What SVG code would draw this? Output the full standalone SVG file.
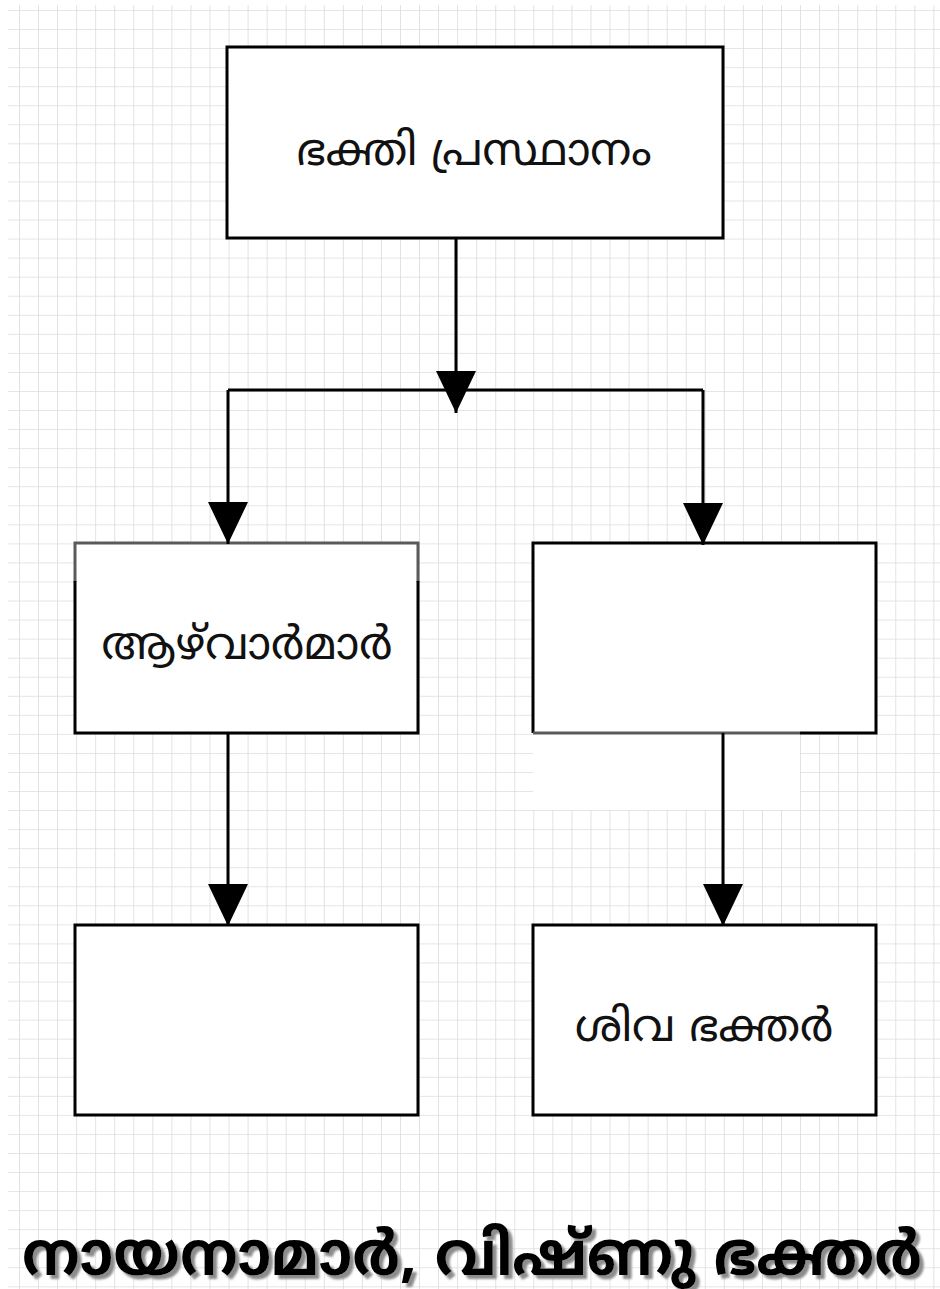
<svg xmlns="http://www.w3.org/2000/svg" width="940" height="1289" viewBox="0 0 940 1289">
<style>
.box{fill:#fff;stroke:#000;stroke-width:3}
.edge{stroke:#000;stroke-width:3;fill:none}
.faint{stroke:#5a5a5a;stroke-width:3;fill:none}
.lbl{font-family:"Noto Sans Malayalam","Noto Sans","DejaVu Sans",sans-serif;font-size:45px;fill:#111;text-anchor:middle}
.cap{font-family:"Noto Sans Malayalam","Noto Sans","DejaVu Sans",sans-serif;font-size:61px;font-weight:bold;fill:#000}
</style>
<defs>
<pattern id="grid" patternUnits="userSpaceOnUse" x="19" y="10" width="19.05" height="19.05">
<path d="M0,0 H19.05 M0,0 V19.05" stroke="#dcdcdc" stroke-width="1.6" fill="none"/>
</pattern>
<marker id="tri" viewBox="0 0 42 40" refX="42" refY="20" markerWidth="42" markerHeight="40" markerUnits="userSpaceOnUse" orient="auto">
<path d="M0,0 L42,20 L0,40 Z" fill="#000"/>
</marker>
<filter id="shadow" x="-5%" y="-20%" width="110%" height="150%">
<feDropShadow dx="4" dy="4" stdDeviation="0.8" flood-color="#8c8c8c" flood-opacity="1"/>
</filter>
</defs>
<rect width="940" height="1289" fill="#fff"/>
<rect x="8" y="5" width="932" height="1284" fill="url(#grid)"/>

<g id="node-bhakti">
<rect class="box" x="227" y="47" width="496" height="191"/>
<text class="lbl" x="474" y="165">ഭക്തി പ്രസ്ഥാനം</text>
</g>

<g id="node-alvar">
<rect x="75" y="543" width="343" height="190" fill="#fff"/>
<path class="faint" d="M75,582 V543 H418 V582"/>
<path class="edge" d="M75,581 V733 H418 V581"/>
<text class="lbl" x="247" y="659">ആഴ്‌വാർമാർ</text>
</g>

<g id="node-empty-right">
<rect x="533" y="543" width="343" height="190" fill="#fff"/>
<rect x="533" y="733" width="267" height="77" fill="#fff"/>
<path class="edge" d="M800,733 H876 V543 H533 V733"/>
<path class="faint" d="M533,733 H800"/>
</g>

<g id="node-empty-left">
<rect class="box" x="75" y="925" width="343" height="190"/>
</g>

<g id="node-shiva">
<rect class="box" x="533" y="925" width="343" height="190"/>
<text class="lbl" x="704" y="1041">ശിവ ഭക്തർ</text>
</g>

<g id="connectors">
<path class="edge" d="M456,238 V413" marker-end="url(#tri)"/>
<path class="edge" d="M228,390 H703"/>
<path class="edge" d="M228,390 V544" marker-end="url(#tri)"/>
<path class="edge" d="M703,390 V545" marker-end="url(#tri)"/>
<path class="edge" d="M228,733 V926" marker-end="url(#tri)"/>
<path class="edge" d="M723,733 V926" marker-end="url(#tri)"/>
</g>

<g id="caption">
<text class="cap" x="22" y="1275" textLength="900" lengthAdjust="spacingAndGlyphs" filter="url(#shadow)">നായനാമാർ, വിഷ്ണു ഭക്തർ</text>
</g>
</svg>
